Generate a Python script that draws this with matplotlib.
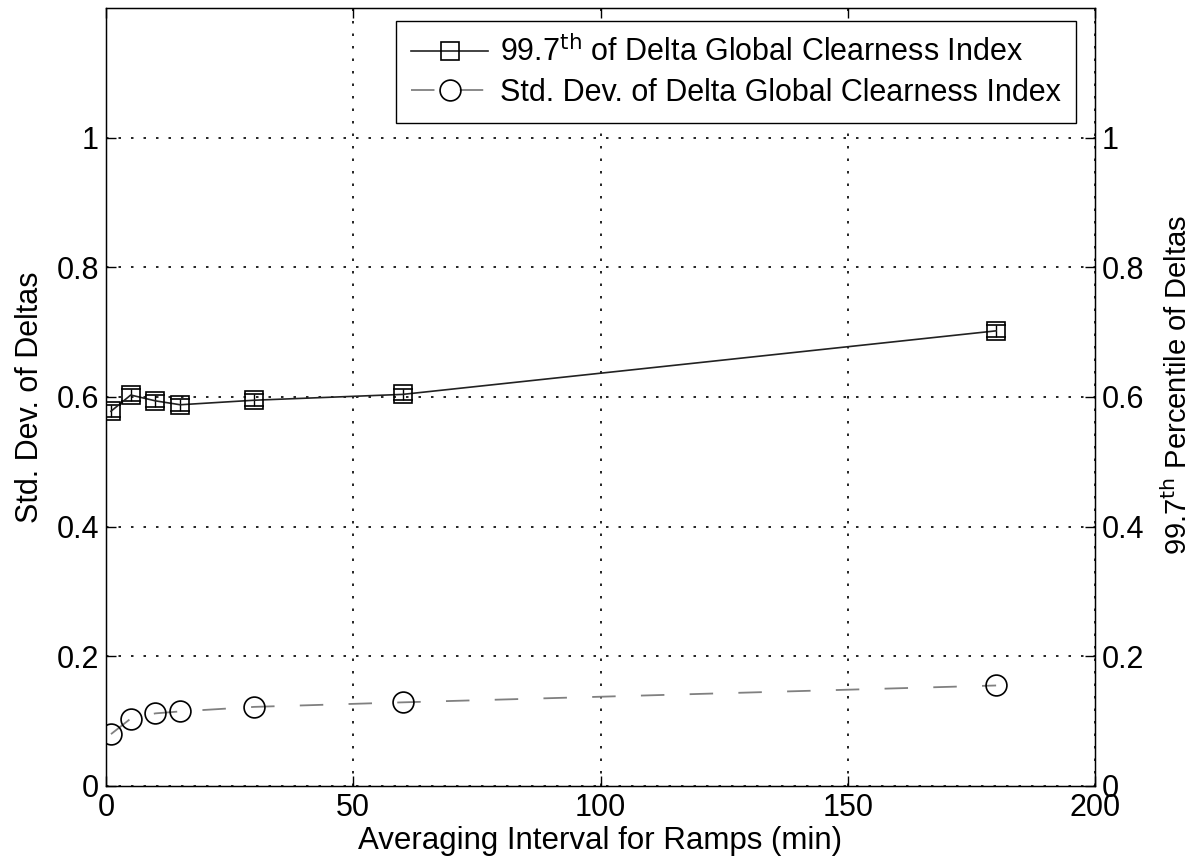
import matplotlib.pyplot as plt

plt.rcParams['font.family'] = ['Liberation Sans', 'DejaVu Sans']

# averaging interval (min) and the two statistics of the clearness index deltas
intervals = [1, 5, 10, 15, 30, 60, 180]
pct997 = [0.578, 0.603, 0.594, 0.588, 0.595, 0.604, 0.702]
pct997_err = [0.009, 0.009, 0.009, 0.009, 0.009, 0.009, 0.009]
std_dev = [0.080, 0.104, 0.112, 0.115, 0.122, 0.129, 0.155]

x_ticks = [0, 50, 100, 150, 200]
y_ticks = [0, 0.2, 0.4, 0.6, 0.8, 1.0]
y_tick_labels = ['0', '0.2', '0.4', '0.6', '0.8', '1']

FS = 22

fig = plt.figure(figsize=(11.94, 8.66), dpi=100)
ax = fig.add_axes([0.0888, 0.0924, 0.8283, 0.8984])

grid_style = dict(color='black', linestyle=(0, (1.5, 6)), linewidth=1.2)

# 99.7th percentile series, with small error bars
ax.errorbar(intervals, pct997, yerr=pct997_err, fmt='none', ecolor='black',
            elinewidth=1, capsize=7, capthick=1.2, zorder=3)
line1, = ax.plot(intervals, pct997, color='#222222', linewidth=1.2,
                 marker='s', markersize=13, markerfacecolor='none',
                 markeredgecolor='black', markeredgewidth=1.2, zorder=4,
                 label='99.7$^{\\rm th}$ of Delta Global Clearness Index')

# standard deviation series
line2, = ax.plot(intervals, std_dev, color='#808080', linewidth=1.3,
                 linestyle=(0, (13, 14)),
                 marker='o', markersize=15, markerfacecolor='none',
                 markeredgecolor='black', markeredgewidth=1.2, zorder=4,
                 label='Std. Dev. of Delta Global Clearness Index')

ax.set_xlim(0, 200)
ax.set_ylim(0, 1.2)
ax.set_xticks(x_ticks)
ax.set_yticks(y_ticks)
ax.set_yticklabels(y_tick_labels)
ax.grid(True, **grid_style)
ax.tick_params(direction='in', length=7, labelsize=FS, top=True, right=False,
               width=1, pad=5)
for s in ax.spines.values():
    s.set_linewidth(1)
ax.set_xlabel('Averaging Interval for Ramps (min)', fontsize=22.5, labelpad=2)
ax.set_ylabel('Std. Dev. of Deltas', fontsize=FS, labelpad=8)

# right axis mirrors the left scale
ax2 = ax.twinx()
ax2.set_ylim(0, 1.2)
ax2.set_yticks(y_ticks)
ax2.set_yticklabels(y_tick_labels)
ax2.tick_params(direction='in', length=7, labelsize=FS, width=1, pad=5)
ax2.set_ylabel('99.7$^{\\rm th}$ Percentile of Deltas', fontsize=21)
ax2.yaxis.set_label_coords(1.068, 0.515)

leg = ax2.legend(handles=[line1, line2], loc='upper right',
                 bbox_to_anchor=(0.981, 0.983), fontsize=FS, numpoints=1,
                 handlelength=2.5, handletextpad=0.4, borderpad=0.5,
                 labelspacing=0.3, fancybox=False, framealpha=1,
                 edgecolor='black', borderaxespad=0)
leg.get_frame().set_linewidth(1)

fig.savefig('out.png', dpi=100)
